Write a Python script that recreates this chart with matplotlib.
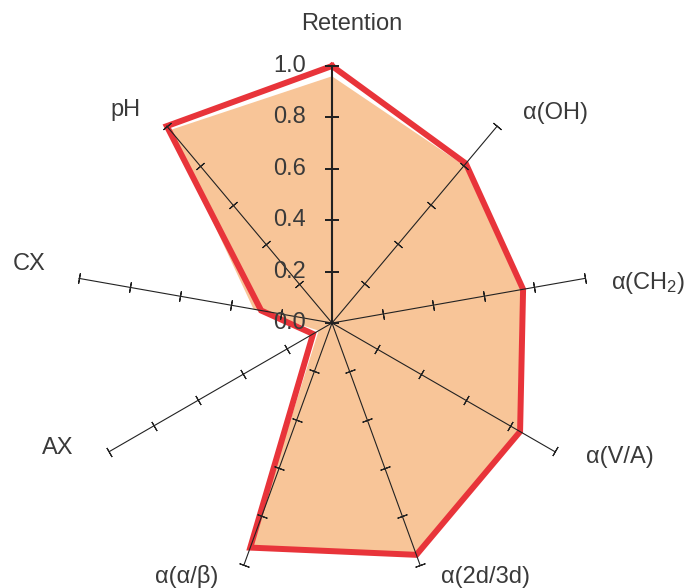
import numpy as np
import matplotlib
matplotlib.use('Agg')
import matplotlib.pyplot as plt

plt.rcParams['font.family'] = ['Liberation Sans', 'DejaVu Sans']
plt.rcParams['mathtext.default'] = 'regular'

# --- dados ---
categorias = ['Retention', 'α(OH)', 'α(CH$_2$)', 'α(V/A)', 'α(2d/3d)',
              'α(α/β)', 'AX', 'CX', 'pH']
valores_linha = [1.00, 0.81, 0.755, 0.845, 0.96, 0.93, 0.085, 0.28, 1.00]
valores_area = [0.96, 0.80, 0.745, 0.835, 0.955, 0.92, 0.06, 0.31, 0.98]
ticks_radiais = [0.0, 0.2, 0.4, 0.6, 0.8, 1.0]
rotulos_radiais = ['0.0', '0.2', '0.4', '0.6', '0.8', '1.0']

# posicoes dos rotulos (pixels da figura)
pos_rotulos = [(352, 24), (555, 113), (648, 283), (620, 457), (486, 577),
               (187, 577), (58, 448), (29, 264), (125, 110)]

W, H = 697, 588
fig = plt.figure(figsize=(W / 100, H / 100), dpi=100)
cx, cy, R = 332, 323, 257
ax = fig.add_axes([(cx - R) / W, (H - cy - R) / H, 2 * R / W, 2 * R / H],
                  projection='polar')
ax.set_theta_zero_location('N')
ax.set_theta_direction(-1)
ax.set_ylim(0, 1)
ax.grid(False)
ax.spines['polar'].set_visible(False)
ax.set_xticks([])
ax.set_yticks([])
ax.patch.set_alpha(0)

n = len(categorias)
ang = np.arange(n) * 2 * np.pi / n
ang_f = np.append(ang, ang[0])

# area preenchida
area = np.append(valores_area, valores_area[0])
ax.fill(ang_f, area, color='#f8c598', lw=0, zorder=1)

# linha vermelha
linha = np.append(valores_linha, valores_linha[0])
ax.plot(ang_f, linha, color='#e8343a', lw=4.3, solid_joinstyle='miter',
        zorder=2, clip_on=False)

# eixos com tracinhos
for i, a in enumerate(ang):
    principal = (i == 0)
    ax.plot([a, a], [0, 1], color='#222222', lw=1.5 if principal else 0.8,
            zorder=3, clip_on=False)
    rr = ticks_radiais if principal else ticks_radiais[1:]
    ax.plot([a] * len(rr), rr, ls='none', color='#222222',
            marker=(2, 2, 90 - np.degrees(a)),
            markersize=10 if principal else 7.5,
            markeredgewidth=1.3 if principal else 0.8, zorder=3, clip_on=False)

# rotulos radiais
for r, t in zip(ticks_radiais, rotulos_radiais):
    ax.annotate(t, xy=(0, r), xytext=(-26, 0), textcoords='offset pixels',
                ha='right', va='center', fontsize=17, color='#3a3a3a', zorder=4)

# rotulos das categorias
for nome, (x, y) in zip(categorias, pos_rotulos):
    fig.text(x / W, 1 - y / H, nome, ha='center', va='center',
             fontsize=17, color='#3a3a3a')

plt.savefig('out.png', dpi=100)
plt.close()
